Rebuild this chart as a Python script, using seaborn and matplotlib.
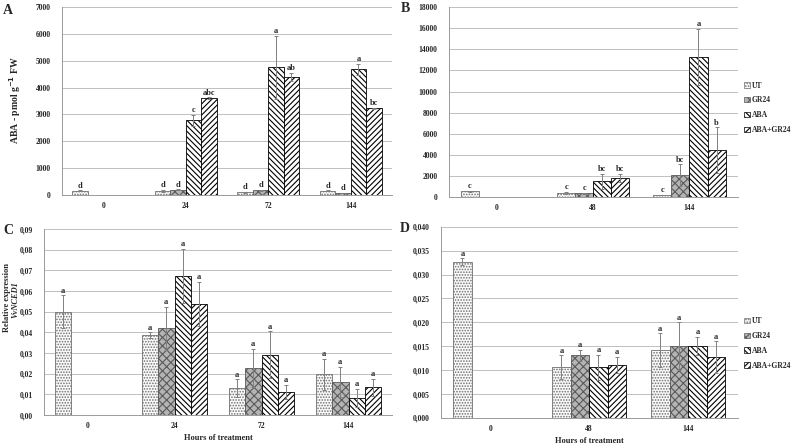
import pandas as pd
import seaborn as sns
import matplotlib.pyplot as plt
import matplotlib.patches as mpatches
from matplotlib.container import BarContainer
from matplotlib.ticker import FuncFormatter

sns.set_style('white')
plt.rcParams['font.family'] = ['Liberation Serif', 'DejaVu Serif']
plt.rcParams['font.weight'] = 'bold'
plt.rcParams['hatch.linewidth'] = 0.8

treatments = ['UT', 'GR24', 'ABA', 'ABA+GR24']

# A - ABA content, pmol g-1 FW
times_a = ['0', '24', '72', '144']
a_ut = [150, 150, 100, 150]
a_gr = [None, 190, 170, 80]
a_aba = [None, 2780, 4750, 4680]
a_abagr = [None, 3600, 4400, 3230]
a_err_ut = [20, 30, 15, 15]
a_err_gr = [None, 20, 15, 10]
a_err_aba = [None, 200, 1180, 200]
a_err_abagr = [None, 40, 140, 20]
a_let_ut = ['d', 'd', 'd', 'd']
a_let_gr = [None, 'd', 'd', 'd']
a_let_aba = [None, 'c', 'a', 'a']
a_let_abagr = [None, 'abc', 'ab', 'bc']

# B
times_b = ['0', '48', '144']
b_ut = [560, 420, 200]
b_gr = [None, 350, 2100]
b_aba = [None, 1500, 13300]
b_abagr = [None, 1800, 4450]
b_err_ut = [60, 80, 30]
b_err_gr = [None, 40, 1000]
b_err_aba = [None, 700, 2650]
b_err_abagr = [None, 380, 2150]
b_let_ut = ['c', 'c', 'c']
b_let_gr = [None, 'c', 'bc']
b_let_aba = [None, 'bc', 'a']
b_let_abagr = [None, 'bc', 'b']

# C - relative expression VvNCED1
times_c = ['0', '24', '72', '144']
c_ut = [0.0500, 0.0387, 0.0130, 0.0197]
c_gr = [None, 0.0420, 0.0228, 0.0160]
c_aba = [None, 0.0675, 0.0293, 0.0083]
c_abagr = [None, 0.0537, 0.0112, 0.0136]
c_err_ut = [0.0080, 0.0013, 0.0043, 0.0075]
c_err_gr = [None, 0.0105, 0.0092, 0.0072]
c_err_aba = [None, 0.0131, 0.0112, 0.0045]
c_err_abagr = [None, 0.0108, 0.0036, 0.0041]
c_let = ['a', 'a', 'a', 'a']

# D
times_d = ['0', '48', '144']
d_ut = [0.0327, 0.0106, 0.0142]
d_gr = [None, 0.0131, 0.0150]
d_aba = [None, 0.0106, 0.0150]
d_abagr = [None, 0.0110, 0.0127]
d_err_ut = [0.0007, 0.0025, 0.0035]
d_err_gr = [None, 0.0012, 0.0050]
d_err_aba = [None, 0.0026, 0.0019]
d_err_abagr = [None, 0.0017, 0.0033]
d_let = ['a', 'a', 'a']

# hatch colour follows the edge colour
styles = {
    'UT': dict(facecolor='#fafafa', hatch='......', edgecolor='#707070'),
    'GR24': dict(facecolor='#b4b4b4', hatch='xxxx', edgecolor='#5a5a5a'),
    'ABA': dict(facecolor='white', hatch='\\\\\\\\\\\\', edgecolor='black'),
    'ABA+GR24': dict(facecolor='white', hatch='//////', edgecolor='black'),
}
BW = 0.75
GREY = '#9a9a9a'


def panel(ax, times, vals, errs, lets, ymax, ystep, dec, legend_y=None):
    rows = []
    for i, t in enumerate(times):
        for k, trt in enumerate(treatments):
            if vals[k][i] is None:
                continue
            rows.append(dict(time=t, trt=trt, val=vals[k][i], err=errs[k][i], lab=lets[k][i]))
    df = pd.DataFrame(rows)
    sns.barplot(data=df, x='time', y='val', hue='trt', order=times, hue_order=treatments,
                errorbar=None, width=BW, ax=ax, legend=False, palette=['white'] * 4,
                edgecolor='black', linewidth=0.6)
    bars = [b for c in ax.containers if isinstance(c, BarContainer) for b in c]
    for bar in bars:
        xc = bar.get_x() + bar.get_width() / 2
        i = int(round(xc))
        k = int(round((xc - i + BW / 2 - BW / 8) / (BW / 4)))
        trt = treatments[k]
        bar.set_facecolor(styles[trt]['facecolor'])
        bar.set_hatch(styles[trt]['hatch'])
        bar.set_edgecolor(styles[trt]['edgecolor'])
        r = df[(df.time == times[i]) & (df.trt == trt)].iloc[0]
        ax.errorbar(xc, r.val, yerr=r.err, color='#808080', lw=0.7, capsize=1.5,
                    capthick=0.7, zorder=3)
        ax.annotate(r.lab, (xc, r.val + r.err), xytext=(0, 0.5), textcoords='offset points',
                    ha='center', va='bottom', fontsize=6, fontweight='bold')
    ax.set_ylim(0, ymax)
    ax.set_xlim(-0.5, len(times) - 0.5)
    ticks = [j * ystep for j in range(int(round(ymax / ystep)) + 1)]
    ax.set_yticks(ticks)
    if dec == 0:
        ax.yaxis.set_major_formatter(FuncFormatter(lambda v, p: '%d' % round(v)))
    else:
        ax.yaxis.set_major_formatter(FuncFormatter(lambda v, p: ('%.*f' % (dec, v)).replace('.', ',')))
    ax.set_xlabel('')
    ax.set_ylabel('')
    ax.yaxis.grid(True, color='#c0c0c0', lw=0.7)
    ax.set_axisbelow(True)
    for s in ['top', 'right']:
        ax.spines[s].set_visible(False)
    for s in ['left', 'bottom']:
        ax.spines[s].set_color(GREY)
        ax.spines[s].set_linewidth(0.7)
    ax.tick_params(axis='x', length=0, labelsize=5.5, pad=5)
    ax.tick_params(axis='y', length=4, width=0.6, color=GREY, labelsize=5.5, pad=4)
    ax.set_xticks([j - 0.5 for j in range(len(times) + 1)], minor=True)
    ax.tick_params(axis='x', which='minor', length=3, color=GREY, width=0.6)
    if legend_y is not None:
        handles = [mpatches.Patch(linewidth=0.5, **styles[t]) for t in treatments]
        ax.legend(handles, treatments, loc='center left', bbox_to_anchor=(1.0, legend_y),
                  frameon=False, fontsize=5.5, handlelength=0.7, handleheight=0.7,
                  handletextpad=0.3, labelspacing=0.9)


fig = plt.figure(figsize=(8, 4.44), dpi=100)
axA = fig.add_axes([0.0775, 0.561, 0.4125, 0.423])
axB = fig.add_axes([0.561, 0.556, 0.361, 0.428])
axC = fig.add_axes([0.055, 0.065, 0.435, 0.419])
axD = fig.add_axes([0.551, 0.059, 0.371, 0.430])

panel(axA, times_a, [a_ut, a_gr, a_aba, a_abagr], [a_err_ut, a_err_gr, a_err_aba, a_err_abagr],
      [a_let_ut, a_let_gr, a_let_aba, a_let_abagr], 7000, 1000, 0)
panel(axB, times_b, [b_ut, b_gr, b_aba, b_abagr], [b_err_ut, b_err_gr, b_err_aba, b_err_abagr],
      [b_let_ut, b_let_gr, b_let_aba, b_let_abagr], 18000, 2000, 0, legend_y=0.47)
panel(axC, times_c, [c_ut, c_gr, c_aba, c_abagr], [c_err_ut, c_err_gr, c_err_aba, c_err_abagr],
      [c_let] * 4, 0.09, 0.01, 2)
panel(axD, times_d, [d_ut, d_gr, d_aba, d_abagr], [d_err_ut, d_err_gr, d_err_aba, d_err_abagr],
      [d_let] * 4, 0.040, 0.005, 3, legend_y=0.39)

fig.text(15 / 800, 1 - 100 / 444, 'ABA - pmol g$^{-1}$ FW', rotation=90, ha='center', va='center',
         fontsize=7, fontweight='bold')
axC.set_xlabel('Hours of treatment', fontsize=6, fontweight='bold', labelpad=3)
axD.set_xlabel('Hours of treatment', fontsize=6, fontweight='bold', labelpad=3)
fig.text(7 / 800, 1 - 297 / 444, 'Relative expression', rotation=90, ha='center', va='center',
         fontsize=6, fontweight='bold')
fig.text(16 / 800, 1 - 300 / 444, 'VvNCED1', rotation=90, ha='center', va='center',
         fontsize=6, fontweight='bold', style='italic')

for lab, x, y in [('A', 8, 10), ('B', 405, 8), ('C', 8, 230), ('D', 405, 228)]:
    fig.text(x / 800, 1 - y / 444, lab, fontsize=10, fontweight='bold', ha='center', va='center')

fig.savefig('out.png', dpi=100)
